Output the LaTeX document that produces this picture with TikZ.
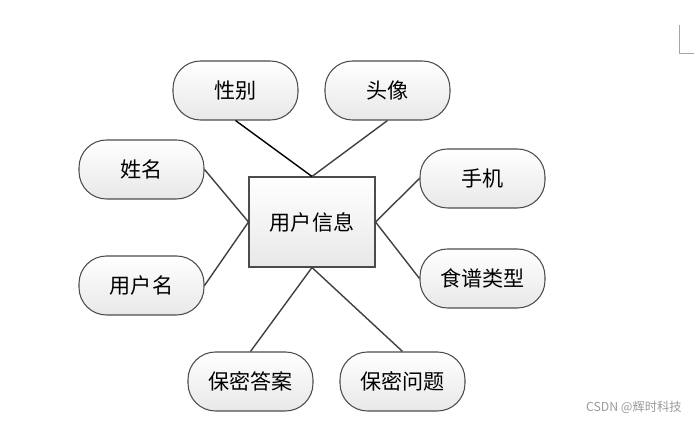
\documentclass[tikz,border=0pt]{standalone}
\usepackage{fontspec}
\setmainfont{Noto Sans CJK SC}
\usetikzlibrary{positioning}

\begin{document}
\begin{tikzpicture}[x=0.02cm, y=-0.02cm,
    entity/.style={draw=black!70, semithick, rectangle, top color=white, bottom color=black!9,
      minimum width=2.52cm, minimum height=1.8cm, align=center, font=\large},
    attr/.style={draw=black!70, semithick, rectangle, rounded corners=0.55cm, top color=white, bottom color=black!9,
      minimum width=2.5cm, minimum height=1.18cm, align=center, font=\large},
    link/.style={draw=black!75, thick}]
    \useasboundingbox (0,0) rectangle (694,421);

    \node [entity] (user) at (312,222) {用户信息};

    \node [attr] (gender) at (235.5,90.5) {性别};
    \node [attr] (avatar) at (387.5,90.5) {头像};
    \node [attr] (name) at (141.5,169.5) {姓名};
    \node [attr] (uname) at (141.5,285.5) {用户名};
    \node [attr] (phone) at (482.5,178.5) {手机};
    \node [attr] (recipe) at (482.5,278.5) {食谱类型};
    \node [attr] (answer) at (250.5,381.5) {保密答案};
    \node [attr] (question) at (402.5,381.5) {保密问题};

    \draw[link, draw=black] (gender.south) -- (user.north);
    \draw[link] (avatar.south) -- (user.north);
    \draw[link] (name.east) -- (user.west);
    \draw[link] (uname.east) -- (user.west);
    \draw[link] (phone.west) -- (user.east);
    \draw[link] (recipe.west) -- (user.east);
    \draw[link] (answer.north) -- (user.south);
    \draw[link] (question.north) -- (user.south);

    % page corner mark and watermark
    \coordinate (mtop) at (679,25);
    \coordinate (mcorner) at (679,53);
    \coordinate (mright) at (694,53);
    \draw[black!35, very thin] (mtop) -- (mcorner) -- (mright);
    \node [text=black!40, font=\scriptsize, anchor=east] (mark) at (688,407) {CSDN @辉时科技};
\end{tikzpicture}
\end{document}
